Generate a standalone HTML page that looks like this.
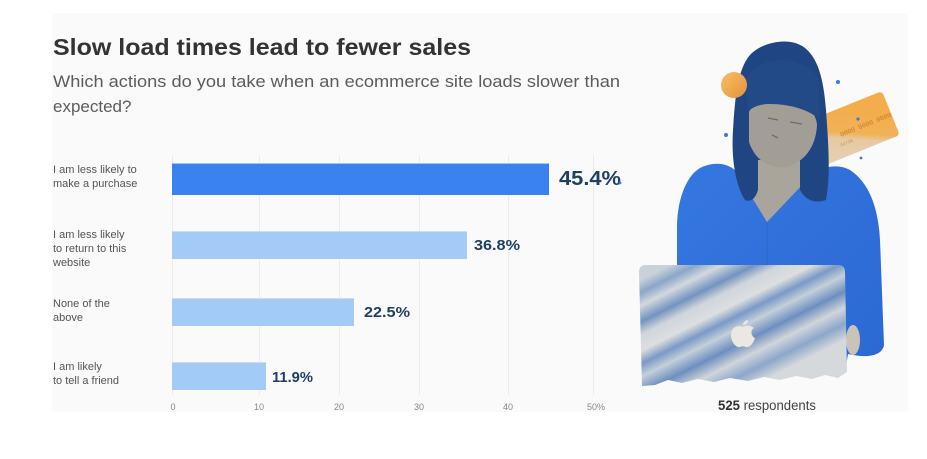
<!DOCTYPE html>
<html>
<head>
<meta charset="utf-8">
<style>
  html,body{margin:0;padding:0;background:#ffffff;}
  svg{display:block;}
  .lbl{font-family:"Liberation Sans",sans-serif;font-size:11px;fill:#555;}
  .tick{font-family:"Liberation Sans",sans-serif;font-size:9px;fill:#888;}
  .val{font-family:"Liberation Sans",sans-serif;font-weight:bold;fill:#1f3f66;}
</style>
</head>
<body>
<svg width="927" height="459" viewBox="0 0 927 459" xmlns="http://www.w3.org/2000/svg">
  <defs>
    <linearGradient id="coin" x1="0" y1="0" x2="1" y2="1">
      <stop offset="0" stop-color="#f7c066"/>
      <stop offset="1" stop-color="#e6913a"/>
    </linearGradient>
    <linearGradient id="cardg" x1="0.15" y1="0.9" x2="0.75" y2="0.2">
      <stop offset="0" stop-color="#e4cfb3"/>
      <stop offset="0.38" stop-color="#e7c9a0"/>
      <stop offset="0.5" stop-color="#f1b257"/>
      <stop offset="1" stop-color="#f3ad4a"/>
    </linearGradient>
    <linearGradient id="lap" gradientUnits="userSpaceOnUse" x1="700" y1="250" x2="765" y2="380">
      <stop offset="0" stop-color="#c9d2da"/>
      <stop offset="0.08" stop-color="#8aa6c9"/>
      <stop offset="0.16" stop-color="#d3d8dc"/>
      <stop offset="0.26" stop-color="#7393c0"/>
      <stop offset="0.34" stop-color="#cfd6dc"/>
      <stop offset="0.44" stop-color="#dcdedf"/>
      <stop offset="0.52" stop-color="#7a9ac6"/>
      <stop offset="0.6" stop-color="#c4cfd9"/>
      <stop offset="0.7" stop-color="#6d8fbf"/>
      <stop offset="0.8" stop-color="#d0d6db"/>
      <stop offset="0.9" stop-color="#8ba7ca"/>
      <stop offset="1" stop-color="#d6d9dc"/>
    </linearGradient>
    <linearGradient id="sw" x1="0" y1="0" x2="1" y2="1">
      <stop offset="0" stop-color="#3577e2"/>
      <stop offset="1" stop-color="#2b68d2"/>
    </linearGradient>
  </defs>

  <!-- card background -->
  <rect x="52" y="13" width="856" height="399" fill="#fafafa"/>

  <!-- title -->
  <text x="53" y="55" font-family="Liberation Sans, sans-serif" font-weight="bold" font-size="23" fill="#333" textLength="418" lengthAdjust="spacingAndGlyphs">Slow load times lead to fewer sales</text>
  <text x="53" y="87" font-family="Liberation Sans, sans-serif" font-size="17" fill="#5c5c5c" textLength="567" lengthAdjust="spacingAndGlyphs">Which actions do you take when an ecommerce site loads slower than</text>
  <text x="53" y="112" font-family="Liberation Sans, sans-serif" font-size="17" fill="#5c5c5c">expected?</text>

  <!-- gridlines -->
  <g stroke="#ebebeb" stroke-width="1">
    <line x1="172.5" y1="155" x2="172.5" y2="395"/>
    <line x1="259.5" y1="155" x2="259.5" y2="395"/>
    <line x1="339.5" y1="155" x2="339.5" y2="395"/>
    <line x1="419.5" y1="155" x2="419.5" y2="395"/>
    <line x1="508.5" y1="155" x2="508.5" y2="395"/>
    <line x1="593.5" y1="155" x2="593.5" y2="395"/>
  </g>

  <!-- bars -->
  <rect x="172" y="163" width="377" height="32" fill="#3a82ef"/>
  <rect x="172" y="163" width="377" height="1" fill="#8fcdf6"/>
  <rect x="172" y="231" width="295" height="28" fill="#a4cbf7"/>
  <rect x="172" y="231" width="295" height="1" fill="#c3e0fb"/>
  <rect x="172" y="298" width="182" height="28" fill="#a4cbf7"/>
  <rect x="172" y="298" width="182" height="1" fill="#c3e0fb"/>
  <rect x="172" y="362" width="94" height="28" fill="#a4cbf7"/>
  <rect x="172" y="362" width="94" height="1" fill="#c3e0fb"/>

  <!-- value labels -->
  <text class="val" x="559" y="185" font-size="20" textLength="62" lengthAdjust="spacingAndGlyphs">45.4%</text>
  <text class="val" x="474" y="250" font-size="15" textLength="46" lengthAdjust="spacingAndGlyphs">36.8%</text>
  <text class="val" x="364" y="317" font-size="15" textLength="46" lengthAdjust="spacingAndGlyphs">22.5%</text>
  <text class="val" x="272" y="382" font-size="15" textLength="41" lengthAdjust="spacingAndGlyphs">11.9%</text>

  <!-- category labels -->
  <text class="lbl" x="53" y="173">I am less likely to</text>
  <text class="lbl" x="53" y="187">make a purchase</text>
  <text class="lbl" x="53" y="238">I am less likely</text>
  <text class="lbl" x="53" y="252">to return to this</text>
  <text class="lbl" x="53" y="266">website</text>
  <text class="lbl" x="53" y="307">None of the</text>
  <text class="lbl" x="53" y="321">above</text>
  <text class="lbl" x="53" y="370">I am likely</text>
  <text class="lbl" x="53" y="384">to tell a friend</text>

  <!-- tick labels -->
  <g class="tick" text-anchor="middle">
    <text x="173" y="410">0</text>
    <text x="259" y="410">10</text>
    <text x="339" y="410">20</text>
    <text x="419" y="410">30</text>
    <text x="508" y="410">40</text>
    <text x="596" y="410">50%</text>
  </g>

  <!-- ===== photo illustration ===== -->
  <!-- credit card -->
  <g transform="translate(803.2,122.9) rotate(-22)">
    <rect x="0" y="0" width="85" height="47.5" rx="4" fill="url(#cardg)"/>
    <text x="30" y="27" font-family="Liberation Mono, monospace" font-size="6.5" fill="#c9782c">0000 0000 0000</text>
    <text x="26" y="36" font-family="Liberation Mono, monospace" font-size="4.5" fill="#b98a5a">12/15</text>
  </g>

  <!-- neck -->
  <path d="M752,150 L805,150 L810,190 L767,226 L736,185 Z" fill="#a9a49c"/>

  <!-- sweater -->
  <path d="M700,168 C712,162 725,162 735,170 L767,222 L805,182 C815,168 835,162 850,170 C868,182 878,205 880,240 L884,345 C882,357 865,358 848,354 L845,372 L677,372 L677,225 C678,195 688,175 700,168 Z" fill="url(#sw)"/>
  <line x1="767" y1="222" x2="767" y2="265" stroke="#2a5fb8" stroke-width="1" opacity="0.6"/>

  <!-- hand -->
  <ellipse cx="853" cy="340" rx="7" ry="15" fill="#c9c3ba"/>

  <!-- hair -->
  <path d="M745,200 C736,186 731,160 733,130 C735,100 737,70 750,55 C762,42 790,36 805,48 C820,60 824,85 826,110 C828,140 831,172 826,200 C815,204 805,200 800,190 L800,160 L758,160 L758,190 C755,200 750,202 745,200 Z" fill="#1f4682"/>
  <!-- face -->
  <path d="M749,112 C753,100 772,96 790,100 C806,104 816,112 817,125 C816,145 806,162 786,167 C769,169 755,160 749,142 Z" fill="#a29e96"/>
  <!-- bangs -->
  <path d="M746,80 C752,58 800,50 818,78 L820,120 C810,110 790,104 770,104 C760,104 752,107 748,112 Z" fill="#224a87"/>
  <path d="M772,135 L778,138 M768,118 L778,120 M790,122 L802,124" stroke="#6f6b66" stroke-width="1.3" fill="none"/>

  <!-- coin -->
  <circle cx="734" cy="85" r="13" fill="url(#coin)"/>

  <!-- laptop -->
  <path d="M639,272 Q639,265 646,265 L838,265 Q845,265 845,272 L847,372 L838,378 L825,375 L812,379 L796,376 L780,380 L764,377 L748,381 L730,378 L714,382 L698,379 L682,383 L668,380 L655,385 L642,386 Z" fill="url(#lap)"/>
  <g transform="translate(743,334)" fill="#ebe7e1">
    <path d="M0,-7 C-4,-9 -12,-8 -12,1 C-12,8 -7,14 -3,13 C-1,12 1,12 3,13 C7,14 11,8 12,4 C8,2 7,-4 11,-6 C8,-9 3,-9 0,-7 Z"/>
    <path d="M0,-9 C0,-12 3,-14 5,-14 C5,-11 3,-9 0,-9 Z"/>
  </g>

  <!-- dots -->
  <g fill="#3b7be0">
    <circle cx="726" cy="135" r="2"/>
    <circle cx="838" cy="82" r="2"/>
    <circle cx="858" cy="119" r="1.6"/>
    <circle cx="861" cy="158" r="1.4"/>
    <circle cx="620" cy="183" r="1.4"/>
  </g>

  <!-- respondents -->
  <text x="718" y="410" font-family="Liberation Sans, sans-serif" font-size="13.5" fill="#444" textLength="98" lengthAdjust="spacingAndGlyphs"><tspan font-weight="bold" fill="#333">525</tspan> respondents</text>
</svg>
</body>
</html>
